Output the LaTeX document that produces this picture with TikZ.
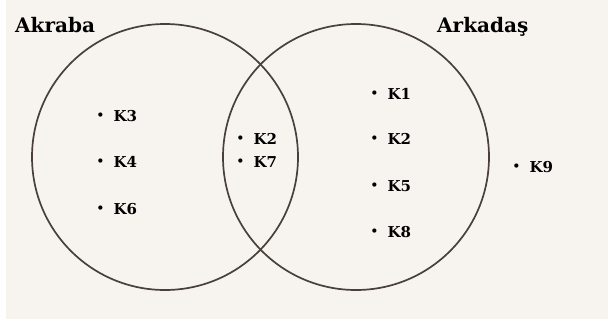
\documentclass[tikz,border=0pt]{standalone}
\usepackage{fontspec}
\setmainfont{DejaVu Serif}
\definecolor{paper}{HTML}{F7F4EF}
\definecolor{ring}{HTML}{4A403A}
% a small raised dot followed by the member's name
\newcommand\kitem[1]{\raisebox{1.6pt}{\fontsize{12}{12}\selectfont •}\hspace{9.3pt}#1}
\begin{document}
\begin{tikzpicture}[x=1pt,y=-1pt,
  setring/.style={draw=ring,line width=1.7pt},
  settitle/.style={font=\bfseries\fontsize{20}{22}\selectfont,inner sep=0pt,anchor=base west,text=black},
  member/.style={font=\bfseries\fontsize{15}{16}\selectfont,inner sep=0pt,anchor=base west,text=black}]
  % canvas
  \fill[white] (0,0) rectangle (608,322);
  \fill[paper] (6,0) rectangle (608,319);
  \useasboundingbox (0,0) rectangle (608,322);
  % the two sets
  \node[setring,circle,minimum size=266pt,inner sep=0pt] (akraba) at (165,157) {};
  \node[setring,circle,minimum size=266pt,inner sep=0pt] (arkadas) at (356,157) {};
  % set names
  \node[settitle] (tA) at (15,32) {Akraba};
  \node[settitle] (tB) at (437,32) {Arkadaş};
  % Akraba only
  \node[member] (k3) at (96.5,121) {\kitem{K3}};
  \node[member] (k4) at (96.5,167) {\kitem{K4}};
  \node[member] (k6) at (96.5,214) {\kitem{K6}};
  % both sets
  \node[member] (k2a) at (236.5,144) {\kitem{K2}};
  \node[member] (k7) at (236.5,167) {\kitem{K7}};
  % Arkadas only
  \node[member] (k1) at (370.5,99) {\kitem{K1}};
  \node[member] (k2b) at (370.5,144) {\kitem{K2}};
  \node[member] (k5) at (370.5,191) {\kitem{K5}};
  \node[member] (k8) at (370.5,237) {\kitem{K8}};
  % outside both
  \node[member] (k9) at (512.5,172) {\kitem{K9}};
\end{tikzpicture}
\end{document}
